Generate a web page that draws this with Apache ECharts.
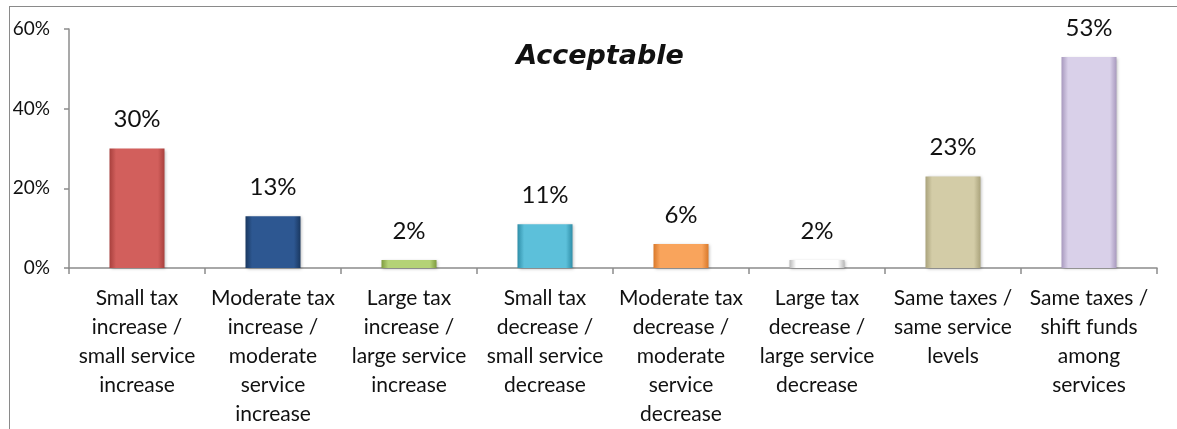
<!DOCTYPE html>
<html>
<head>
<meta charset="utf-8">
<script src="https://cdn.jsdelivr.net/npm/echarts@6/dist/echarts.min.js"></script>
<style>
  html, body { margin: 0; padding: 0; background: #fff; }
  #frame { position: absolute; left: 9px; top: 6px; width: 1200px; height: 500px; border-left: 1px solid #8a8a8a; border-top: 1px solid #8a8a8a; box-sizing: border-box; }
  #chart { position: absolute; left: 0; top: 0; width: 1177px; height: 429px; }
</style>
</head>
<body>
<div id="frame"></div>
<div id="chart"></div>
<script>
// Survey options and share of respondents rating each as acceptable
const categories = [
  'Small tax\nincrease /\nsmall service\nincrease',
  'Moderate tax\nincrease /\nmoderate\nservice\nincrease',
  'Large tax\nincrease /\nlarge service\nincrease',
  'Small tax\ndecrease /\nsmall service\ndecrease',
  'Moderate tax\ndecrease /\nmoderate\nservice\ndecrease',
  'Large tax\ndecrease /\nlarge service\ndecrease',
  'Same taxes /\nsame service\nlevels',
  'Same taxes /\nshift funds\namong\nservices'
];
const acceptable = [30, 13, 2, 11, 6, 2, 23, 53];
const yTicks = [0, 20, 40, 60];

// Bar fills: [edge, centre] pairs for a bevelled look
const barColors = [
  ['#a8403d', '#d25f5c'],
  ['#1a3860', '#2d5791'],
  ['#7f9c3f', '#b4d276'],
  ['#2f8ea8', '#5cc0da'],
  ['#d9792b', '#f9a45c'],
  ['#b8b8b8', '#ffffff'],
  ['#aaa37c', '#d3cca7'],
  ['#a899be', '#d9d0e9']
];

function bevel(pair) {
  return new echarts.graphic.LinearGradient(0, 0, 1, 0, [
    { offset: 0, color: pair[0] },
    { offset: 0.12, color: pair[1] },
    { offset: 0.88, color: pair[1] },
    { offset: 1, color: pair[0] }
  ]);
}

const chart = echarts.init(document.getElementById('chart'), null, { renderer: 'canvas' });
const font = 'Lato, "Open Sans", sans-serif';

chart.setOption({
  animation: false,
  title: {
    text: 'Acceptable',
    left: 595,
    top: 38,
    textAlign: 'center',
    textStyle: { fontFamily: '"Comic Sans MS", "DejaVu Sans", sans-serif', fontStyle: 'italic', fontWeight: 'bold', fontSize: 27, color: '#111' }
  },
  grid: { left: 69, right: 20, top: 29, bottom: 161, containLabel: false },
  xAxis: {
    type: 'category',
    data: categories,
    boundaryGap: true,
    axisLine: { lineStyle: { color: '#8c8c8c', width: 1.5 } },
    axisTick: { show: true, interval: 0, length: 6, alignWithLabel: false, lineStyle: { color: '#8c8c8c', width: 1.5 } },
    axisLabel: { interval: 0, margin: 16, fontFamily: font, fontSize: 21, lineHeight: 29, color: '#111' }
  },
  yAxis: {
    type: 'value',
    min: yTicks[0],
    max: yTicks[yTicks.length - 1],
    interval: 20,
    splitLine: { show: false },
    axisLine: { show: true, lineStyle: { color: '#8c8c8c', width: 1.5 } },
    axisTick: { show: true, length: 5, lineStyle: { color: '#8c8c8c', width: 1.5 } },
    axisLabel: { formatter: '{value}%', margin: 19, fontFamily: font, fontSize: 19, color: '#111' }
  },
  series: [{
    type: 'bar',
    barWidth: 55,
    data: acceptable.map((v, i) => ({
      value: v,
      itemStyle: {
        color: bevel(barColors[i]),
        shadowColor: 'rgba(0,0,0,0.25)',
        shadowBlur: 3,
        shadowOffsetX: 1,
        shadowOffsetY: 1
      }
    })),
    label: {
      show: true,
      position: 'top',
      distance: 17,
      formatter: '{c}%',
      fontFamily: font,
      fontSize: 24,
      color: '#111'
    }
  }]
});
</script>
</body>
</html>
